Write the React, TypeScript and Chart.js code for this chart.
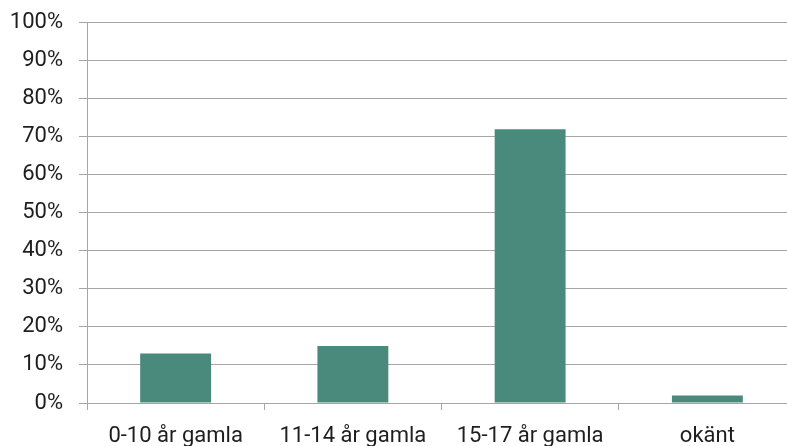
import React, { useEffect, useRef } from "react";
import { Chart, registerables } from "chart.js";

Chart.register(...registerables);

// Andel per åldersgrupp (procent)
const categories = ["0-10 år gamla", "11-14 år gamla", "15-17 år gamla", "okänt"];
const shares = [13, 15, 72, 2];
const yTicks = [0, 10, 20, 30, 40, 50, 60, 70, 80, 90, 100];

const BAR_COLOR = "#4a8a7c";
const GRID_COLOR = "#a6a6a6";
const TEXT_COLOR = "#1e1e1e";
const FONT = { family: "Roboto", size: 22 };

export default function App() {
  const canvasRef = useRef<HTMLCanvasElement | null>(null);

  useEffect(() => {
    const canvas = canvasRef.current;
    if (!canvas) return;
    const chart = new Chart(canvas, {
      type: "bar",
      data: {
        labels: categories,
        datasets: [
          {
            data: shares,
            backgroundColor: BAR_COLOR,
            barPercentage: 0.4,
            categoryPercentage: 1,
          },
        ],
      },
      options: {
        responsive: false,
        animation: false,
        devicePixelRatio: 1,
        layout: { padding: { top: 22.7, right: 4, left: 0, bottom: 0 } },
        plugins: { legend: { display: false }, tooltip: { enabled: false } },
        scales: {
          x: {
            offset: true,
            grid: {
              offset: true,
              drawOnChartArea: false,
              drawTicks: true,
              tickLength: 7,
              color: GRID_COLOR,
            },
            border: { display: true, color: GRID_COLOR, width: 1 },
            ticks: {
              color: TEXT_COLOR,
              font: FONT,
              padding: 13,
              maxRotation: 0,
              autoSkip: false,
            },
            afterFit: (scale: any) => {
              scale.height = 43;
              scale.paddingLeft = 0;
              scale.paddingRight = 0;
            },
          },
          y: {
            min: 0,
            max: 100,
            afterBuildTicks: (scale: any) => {
              scale.ticks = yTicks.map((v) => ({ value: v }));
            },
            grid: {
              color: GRID_COLOR,
              drawTicks: true,
              tickLength: 8,
            },
            border: { display: true, color: GRID_COLOR, width: 1 },
            ticks: {
              color: TEXT_COLOR,
              font: FONT,
              padding: 16,
              callback: (v: any) => `${v}%`,
            },
            afterFit: (scale: any) => {
              scale.width = 87;
              scale.paddingTop = 0;
              scale.paddingBottom = 0;
            },
          },
        },
      },
    });
    return () => chart.destroy();
  }, []);

  return (
    <div
      style={{
        position: "fixed",
        left: 0,
        top: 0,
        width: 787,
        height: 446,
        overflow: "hidden",
        background: "#ffffff",
      }}
    >
      <canvas ref={canvasRef} width={800} height={446} style={{ display: "block" }} />
    </div>
  );
}
